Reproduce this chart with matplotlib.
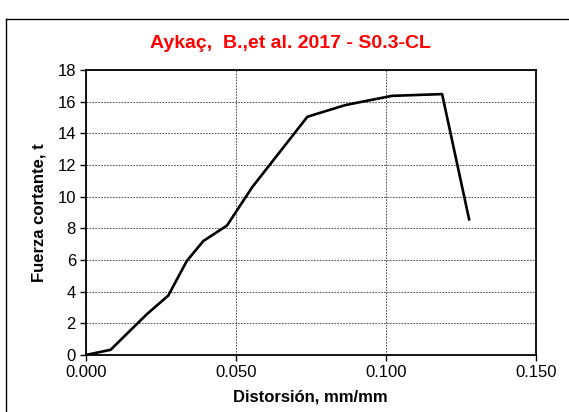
import matplotlib
matplotlib.use("Agg")
import matplotlib.pyplot as plt
from matplotlib.lines import Line2D

plt.rcParams["font.family"] = ["Liberation Sans", "DejaVu Sans"]

# Curve (distortion, shear force)
distorsion = [0.0, 0.0083, 0.0205, 0.0275, 0.0337, 0.0392, 0.0471, 0.0555,
              0.0739, 0.0866, 0.1021, 0.1188, 0.1278]
fuerza = [0.0, 0.33, 2.6, 3.75, 5.94, 7.2, 8.18, 10.6,
          15.05, 15.79, 16.37, 16.48, 8.57]

x_ticks = [0.0, 0.05, 0.10, 0.15]
x_ticklabels = ["0.000", "0.050", "0.100", "0.150"]
y_ticks = [0, 2, 4, 6, 8, 10, 12, 14, 16, 18]

titulo = "Aykaç,  B.,et al. 2017 - S0.3-CL"

fig = plt.figure(figsize=(5.69, 4.12), dpi=100)
ax = fig.add_axes([0.1506, 0.1383, 0.7909, 0.6917])

ax.plot(distorsion, fuerza, color="black", linewidth=1.9)

ax.set_xlim(0, 0.15)
ax.set_ylim(0, 18)
ax.set_xticks(x_ticks)
ax.set_xticklabels(x_ticklabels)
ax.set_yticks(y_ticks)
ax.tick_params(direction="out", length=4, width=1, labelsize=12, pad=3)

ax.grid(True, color="#333333", linestyle=(0, (2, 1.5)), linewidth=0.6)
for s in ax.spines.values():
    s.set_linewidth(1.3)

ax.set_xlabel("Distorsión, mm/mm", fontsize=12, fontweight="bold", labelpad=7)
ax.set_ylabel("Fuerza cortante, t", fontsize=12, fontweight="bold", labelpad=8)

fig.text(0.51, 0.895, titulo, color="#ff0000", fontsize=14,
         fontweight="bold", ha="center", va="center")

# outer chart frame
fig.add_artist(Line2D([5.5 / 569, 5.5 / 569], [0, 1 - 18.5 / 412],
                      color="black", linewidth=1, transform=fig.transFigure))
fig.add_artist(Line2D([5.5 / 569, 1], [1 - 18.5 / 412, 1 - 18.5 / 412],
                      color="black", linewidth=1, transform=fig.transFigure))

plt.savefig("out.png", dpi=100)
